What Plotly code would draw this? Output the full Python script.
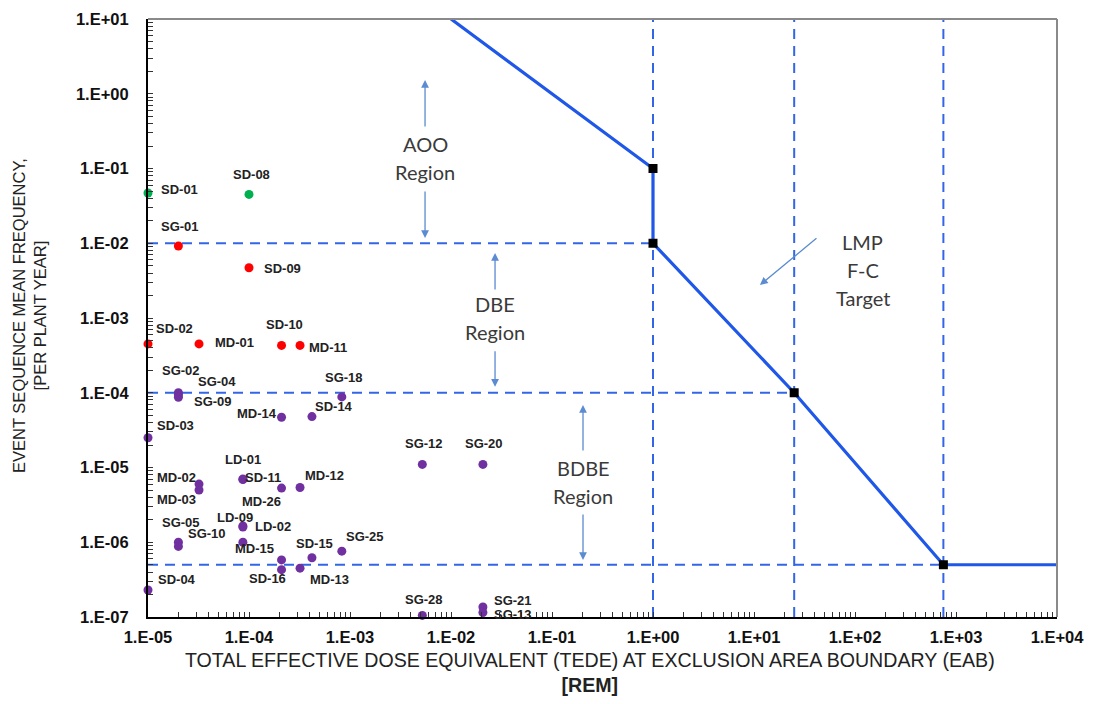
import numpy as np
import plotly.graph_objects as go

# ---------------- data ----------------
# event sequences (dose in rem, frequency per plant-year)
seq_names = ["SD-01", "SD-08",
             "SG-01", "SD-09", "SD-02", "MD-01", "SD-10", "MD-11",
             "SG-02", "SG-04", "SG-09", "SG-18", "MD-14", "SD-14", "SD-03",
             "LD-01", "SD-11", "MD-02", "MD-03", "MD-26", "MD-12",
             "LD-09", "LD-02", "MD-15", "SG-05", "SG-10", "SD-15", "SG-25",
             "", "SD-16", "MD-13", "SD-04",
             "SG-12", "SG-20", "SG-28", "SG-21", "SG-13"]
seq_dose = [1.0e-5, 1.0e-4,
            2.0e-5, 1.0e-4, 1.0e-5, 3.2e-5, 2.1e-4, 3.2e-4,
            2.0e-5, 2.0e-5, 2.0e-5, 8.3e-4, 2.1e-4, 4.2e-4, 1.0e-5,
            8.7e-5, 8.7e-5, 3.2e-5, 3.2e-5, 2.1e-4, 3.2e-4,
            8.7e-5, 8.7e-5, 8.7e-5, 2.0e-5, 2.0e-5, 4.2e-4, 8.3e-4,
            2.1e-4, 2.1e-4, 3.2e-4, 1.0e-5,
            5.2e-3, 2.07e-2, 5.2e-3, 2.07e-2, 2.07e-2]
seq_freq = [4.7e-2, 4.5e-2,
            9.2e-3, 4.7e-3, 4.5e-4, 4.5e-4, 4.3e-4, 4.3e-4,
            1.0e-4, 9.4e-5, 8.7e-5, 8.8e-5, 4.7e-5, 4.8e-5, 2.5e-5,
            7.0e-6, 6.9e-6, 6.0e-6, 5.0e-6, 5.3e-6, 5.4e-6,
            1.65e-6, 1.6e-6, 1.0e-6, 1.0e-6, 8.8e-7, 6.2e-7, 7.6e-7,
            5.8e-7, 4.3e-7, 4.5e-7, 2.3e-7,
            1.1e-5, 1.1e-5, 1.05e-7, 1.36e-7, 1.15e-7]
seq_group = ["AOO"] * 2 + ["DBE"] * 6 + ["BDBE"] * 29

# LMP frequency-consequence target
target_dose = [1e-2, 1.0, 1.0, 25.0, 750.0, 1e4]
target_freq = [1e1, 1e-1, 1e-2, 1e-4, 5e-7, 5e-7]

# region boundaries
freq_bounds = [1e-2, 1e-4, 5e-7]
freq_bound_ends = [1.0, 25.0, 750.0]
dose_bounds = [1.0, 25.0, 750.0]

x_range = [1e-5, 1e4]
y_range = [1e-7, 1e1]

x_tickvals = [1e-5, 1e-4, 1e-3, 1e-2, 1e-1, 1e0, 1e1, 1e2, 1e3, 1e4]
x_ticktext = ["1.E-05", "1.E-04", "1.E-03", "1.E-02", "1.E-01",
              "1.E+00", "1.E+01", "1.E+02", "1.E+03", "1.E+04"]
y_tickvals = [1e-7, 1e-6, 1e-5, 1e-4, 1e-3, 1e-2, 1e-1, 1e0, 1e1]
y_ticktext = ["1.E-07", "1.E-06", "1.E-05", "1.E-04", "1.E-03",
              "1.E-02", "1.E-01", "1.E+00", "1.E+01"]

# ---------------- styles ----------------
group_colors = {"AOO": "#00b050", "DBE": "#ff0000", "BDBE": "#7030a0"}
# label offsets in pixels (dx right, dy up) relative to the point
label_offsets = [(11, 4), (-18, 20),
                 (-19, 19), (13, -1), (6, 15), (14, 1), (-18, 21), (7, -2),
                 (-18, 22), (18, 13), (14, -4), (-19, 19), (-47, 4), (1, 10), (7, 12),
                 (-20, 20), (0, 2), (-44, 7), (-44, -9), (-42, -13), (3, 12),
                 (-28, 8), (10, 0), (-10, -6), (-18, 20), (8, 13), (-18, 14), (2, 15),
                 (0, 0), (-35, -9), (8, -11), (8, 10),
                 (-19, 21), (-20, 21), (-19, 16), (9, 7), (9, -2)]

DASH_COLOR = "#3366e6"
LINE_COLOR = "#1f57e8"

fig = go.Figure()

# dashed region boundaries
for f, xe in zip(freq_bounds, freq_bound_ends):
    fig.add_trace(go.Scatter(x=[x_range[0], xe], y=[f, f], mode="lines",
                             line=dict(color=DASH_COLOR, width=2, dash="10px,7px"),
                             hoverinfo="skip", showlegend=False))
for d in dose_bounds:
    fig.add_trace(go.Scatter(x=[d, d], y=y_range, mode="lines",
                             line=dict(color=DASH_COLOR, width=2, dash="10px,7px"),
                             hoverinfo="skip", showlegend=False))

# target curve
fig.add_trace(go.Scatter(x=target_dose, y=target_freq, mode="lines",
                         line=dict(color=LINE_COLOR, width=3.2),
                         showlegend=False))
fig.add_trace(go.Scatter(x=target_dose[1:5], y=target_freq[1:5], mode="markers",
                         marker=dict(symbol="square", color="black", size=9),
                         showlegend=False))

# event sequence points
for g in ["AOO", "DBE", "BDBE"]:
    idx = [i for i, gg in enumerate(seq_group) if gg == g]
    fig.add_trace(go.Scatter(x=[seq_dose[i] for i in idx], y=[seq_freq[i] for i in idx],
                             mode="markers", cliponaxis=False,
                             marker=dict(color=group_colors[g], size=9),
                             text=[seq_names[i] for i in idx], showlegend=False))

# invisible trace that carries the minor-tick overlay axes
fig.add_trace(go.Scatter(x=x_range, y=y_range, xaxis="x2", yaxis="y2", mode="markers",
                         marker=dict(opacity=0), hoverinfo="skip", showlegend=False))

annotations = []
for name, d, f, (dx, dy) in zip(seq_names, seq_dose, seq_freq, label_offsets):
    if not name:
        continue
    annotations.append(dict(x=np.log10(d), y=np.log10(f), xref="x", yref="y",
                            text="<b>" + name + "</b>", showarrow=False,
                            xanchor="left", yanchor="middle", xshift=dx, yshift=dy,
                            font=dict(family="Arial", size=13, color="#222222")))

REG_FONT = dict(family="Lato", size=20, color="#3a3a3a")
ARROW_COLOR = "#5b8bd0"
LINE_GAP = 28

def text_block(lines, xlog, ylog_center):
    n = len(lines)
    for k, ln in enumerate(lines):
        annotations.append(dict(x=xlog, y=ylog_center, xref="x", yref="y", text=ln,
                                showarrow=False, font=REG_FONT,
                                xanchor="center", yanchor="middle",
                                yshift=((n - 1) / 2 - k) * LINE_GAP))

def arrow(xlog, ylog_tip, ax, ay):
    annotations.append(dict(x=xlog, y=ylog_tip, xref="x", yref="y", text="",
                            showarrow=True, ax=ax, ay=ay, arrowhead=2, arrowsize=1.2,
                            arrowwidth=1.3, arrowcolor=ARROW_COLOR))

# AOO region
text_block(["AOO", "Region"], -2.257, -0.86)
arrow(-2.257, 0.184, 0, 48)
arrow(-2.257, -1.93, 0, -48)
# DBE region
text_block(["DBE", "Region"], -1.564, -3.0)
arrow(-1.564, -2.13, 0, 38)
arrow(-1.564, -3.92, 0, -37)
# BDBE region
text_block(["BDBE", "Region"], -0.693, -5.2)
arrow(-0.693, -4.164, 0, 47)
arrow(-0.693, -6.237, 0, -47)
# LMP target
text_block(["LMP", "F-C", "Target"], 2.079, -2.36)
arrow(1.059, -2.559, 58, -48)

# axis titles
annotations.append(dict(x=-0.131, y=0.505, xref="paper", yref="paper",
                        xanchor="center", yanchor="middle",
                        text="EVENT SEQUENCE MEAN FREQUENCY,<br>[PER PLANT YEAR]",
                        textangle=-90, showarrow=False, align="center",
                        font=dict(family="Arial", size=16.5, color="#222222")))
annotations.append(dict(x=0.486, y=-0.092, xref="paper", yref="paper",
                        xanchor="center", yanchor="middle",
                        text="TOTAL EFFECTIVE DOSE EQUIVALENT (TEDE) AT EXCLUSION AREA BOUNDARY (EAB)<br><b>[REM]</b>",
                        showarrow=False, align="center",
                        font=dict(family="Arial", size=19.6, color="#222222")))

def make_axis(rng, tv, tt, **extra):
    return dict(type="log", range=[np.log10(rng[0]), np.log10(rng[1])],
                automargin=False, showgrid=False, zeroline=False, showline=True,
                linecolor="black", linewidth=2, ticks="", 
                tickmode="array", tickvals=tv, ticktext=["<b>" + t + "</b>" for t in tt],
                tickfont=dict(family="Arial", size=16.5, color="#111111"),
                **extra)

def minor_axis(rng, **extra):
    return dict(type="log", range=[np.log10(rng[0]), np.log10(rng[1])],
                automargin=False, showgrid=False, zeroline=False, showline=False,
                ticks="inside", ticklen=5, tickwidth=1, tickcolor="#333333",
                dtick="D1", showticklabels=False, **extra)

# the page body adds an 8px offset, so the figure is sized to fit inside the window
fig.update_layout(
    width=1095, height=696,
    margin=dict(l=140, r=46, t=11, b=87, autoexpand=False),
    paper_bgcolor="white", plot_bgcolor="white",
    xaxis=make_axis(x_range, x_tickvals, x_ticktext, ticklabelstandoff=4),
    yaxis=make_axis(y_range, y_tickvals, y_ticktext, ticklabelstandoff=14),
    xaxis2=minor_axis(x_range, overlaying="x", anchor="y2", side="bottom"),
    yaxis2=minor_axis(y_range, overlaying="y", anchor="x2", side="left"),
    annotations=annotations,
    shapes=[dict(type="line", xref="paper", yref="paper", x0=0, x1=1, y0=1, y1=1,
                 line=dict(color="#8a8a8a", width=2)),
            dict(type="line", xref="paper", yref="paper", x0=1, x1=1, y0=0, y1=1,
                 line=dict(color="#8a8a8a", width=2))],
)

fig.write_html("out.html")
